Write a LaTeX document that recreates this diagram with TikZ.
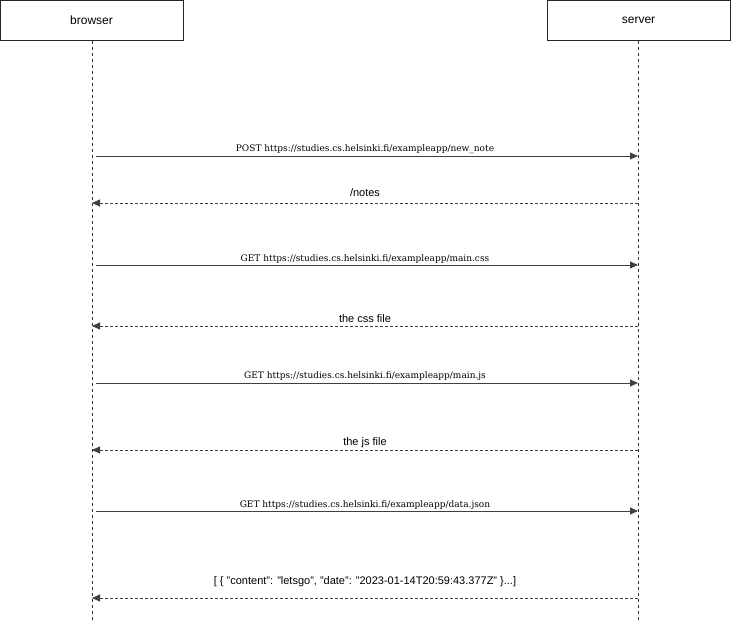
\documentclass[tikz,border=0pt]{standalone}
\usepackage{fontspec}
\setmainfont{Liberation Sans}
\newfontfamily\reqfont{DejaVu Serif}
\usetikzlibrary{arrows.meta}

\begin{document}
\begin{tikzpicture}[x=1pt,y=-1pt,
  actor/.style={draw=black!85,line width=0.8pt,minimum width=183pt,minimum height=40pt,
    inner sep=0pt,font=\fontsize{12}{14}\selectfont},
  lifeline/.style={draw=black!80,line width=0.7pt,dash pattern=on 3pt off 3pt},
  request/.style={draw=black!75,line width=0.9pt,-{Triangle[length=8pt,width=7pt]}},
  reply/.style={draw=black!75,line width=0.9pt,dash pattern=on 3pt off 2pt,
    -{Triangle[length=8pt,width=7pt]}},
  reqlabel/.style={anchor=base,inner sep=0pt,font=\reqfont\fontsize{9}{11}\selectfont},
  replabel/.style={anchor=base,inner sep=0pt,font=\fontsize{11}{13}\selectfont}]

\useasboundingbox (0,0) rectangle (731,621);

% participants
\node[actor] (browser) at (91.5,20.5) {browser};
\node[actor] (server) at (638.5,20.5) {server};
\coordinate (bend) at (92,621);
\coordinate (send) at (638,621);
\draw[lifeline] (browser.south -| bend) -- (bend);
\draw[lifeline] (server.south -| send) -- (send);

% message anchors on the lifelines (start of requests sits a little off the line)
\foreach \n/\y in {1/156,2/203,3/265,4/326,5/383,6/450,7/511,8/598}{
  \coordinate (b\n) at (92,\y);
  \coordinate (r\n) at (96,\y);
  \coordinate (s\n) at (638,\y);
}

% messages
\draw[request] (r1) -- (s1);
\node[reqlabel] (m1) at (365,151) {POST https://studies.cs.helsinki.fi/exampleapp/new\_note};
\draw[reply] (s2) -- (b2);
\node[replabel] (m2) at (365,196) {/notes};
\draw[request] (r3) -- (s3);
\node[reqlabel] (m3) at (365,261) {GET https://studies.cs.helsinki.fi/exampleapp/main.css};
\draw[reply] (s4) -- (b4);
\node[replabel] (m4) at (365,322) {the css file};
\draw[request] (r5) -- (s5);
\node[reqlabel] (m5) at (365,378) {GET https://studies.cs.helsinki.fi/exampleapp/main.js};
\draw[reply] (s6) -- (b6);
\node[replabel] (m6) at (365,445) {the js file};
\draw[request] (r7) -- (s7);
\node[reqlabel] (m7) at (365,507) {GET https://studies.cs.helsinki.fi/exampleapp/data.json};
\draw[reply] (s8) -- (b8);
\node[replabel] (m8) at (365,584) {[ \{ "content": "letsgo", "date": "2023-01-14T20:59:43.377Z" \}...]};

\end{tikzpicture}
\end{document}
